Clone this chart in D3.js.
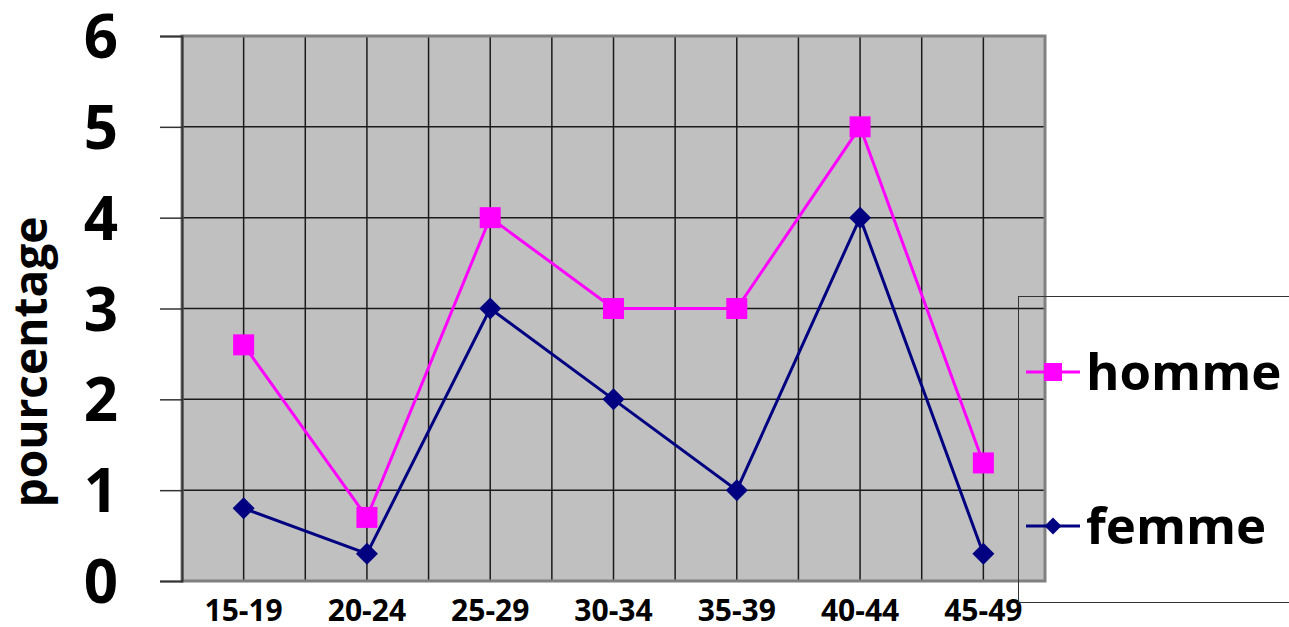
<!DOCTYPE html>
<html>
<head>
<meta charset="utf-8">
<script src="https://cdn.jsdelivr.net/npm/d3@7"></script>
<style>
  html, body { margin: 0; padding: 0; background: #fff; }
  svg { display: block; }
  text { font-family: "Open Sans", sans-serif; font-weight: bold; fill: #000; }
</style>
</head>
<body>
<svg id="chart" width="1289" height="627"></svg>
<script>
const categories = ["15-19", "20-24", "25-29", "30-34", "35-39", "40-44", "45-49"];
const homme = [2.6, 0.7, 4, 3, 3, 5, 1.3];
const femme = [0.8, 0.3, 3, 2, 1, 4, 0.3];
const yTicks = [0, 1, 2, 3, 4, 5, 6];
const seriesNames = ["homme", "femme"];
const yLabel = "pourcentage";

const svg = d3.select("#chart");
const L = 182, R = 1045, T = 36, B = 581;

const x = d3.scaleBand().domain(categories).range([L, R]).padding(0);
const xc = d => x(d) + x.bandwidth() / 2;
const y = d3.scaleLinear().domain([0, 6]).range([B, T]);

// plot background
svg.append("rect").attr("x", L).attr("y", T).attr("width", R - L).attr("height", B - T)
  .attr("fill", "#c0c0c0");

// vertical gridlines: band boundaries and centers
const vlines = [];
categories.forEach((c, i) => {
  if (i > 0) vlines.push(x(c));
  vlines.push(xc(c));
});
svg.append("g").selectAll("line").data(vlines).join("line")
  .attr("x1", d => d).attr("x2", d => d).attr("y1", T).attr("y2", B)
  .attr("stroke", "#1a1a1a").attr("stroke-width", 1.5);

// horizontal gridlines
svg.append("g").selectAll("line").data(yTicks.filter(t => t > 0 && t < 6)).join("line")
  .attr("x1", L).attr("x2", R).attr("y1", d => y(d)).attr("y2", d => y(d))
  .attr("stroke", "#1a1a1a").attr("stroke-width", 1.5);

// plot border (gray)
svg.append("rect").attr("x", L).attr("y", T).attr("width", R - L).attr("height", B - T)
  .attr("fill", "none").attr("stroke", "#808080").attr("stroke-width", 3);

// y axis
const yAxis = d3.axisLeft(y).tickValues(yTicks).tickSize(22).tickFormat(d3.format("d"));
const ya = svg.append("g").attr("transform", `translate(${L},0)`).call(yAxis);
ya.select(".domain").attr("stroke", "#333").attr("stroke-width", 2);
ya.selectAll(".tick line").attr("stroke", "#333").attr("stroke-width", 1.5);
ya.selectAll(".tick text").attr("x", -64).attr("dy", "0.36em")
  .style("font-family", "'Open Sans', sans-serif").style("font-weight", "bold")
  .style("font-size", "60px").attr("fill", "#000");

// x axis labels
const xAxis = d3.axisBottom(x).tickSize(0);
const xa = svg.append("g").attr("transform", `translate(0,${B})`).call(xAxis);
xa.select(".domain").remove();
xa.selectAll(".tick text").attr("y", 19).attr("dy", "0.71em")
  .style("font-family", "'Open Sans', sans-serif").style("font-weight", "bold")
  .style("font-size", "30px").attr("fill", "#000");

// y label
svg.append("text").attr("transform", `translate(47,362) rotate(-90)`)
  .attr("text-anchor", "middle").style("font-size", "46px").text(yLabel);

// series
const colors = { homme: "#ff00ff", femme: "#000080" };
const data = { homme, femme };
const line = d3.line().x((d, i) => xc(categories[i])).y(d => y(d));

seriesNames.forEach(name => {
  svg.append("path").datum(data[name]).attr("d", line)
    .attr("fill", "none").attr("stroke", colors[name]).attr("stroke-width", 3);
});

// markers
svg.append("g").selectAll("rect").data(homme).join("rect")
  .attr("x", (d, i) => xc(categories[i]) - 10.5).attr("y", d => y(d) - 10.5)
  .attr("width", 21).attr("height", 21).attr("fill", colors.homme);

svg.append("g").selectAll("path").data(femme).join("path")
  .attr("d", (d, i) => {
    const cx = xc(categories[i]), cy = y(d), r = 11;
    return `M${cx},${cy - r}L${cx + r},${cy}L${cx},${cy + r}L${cx - r},${cy}Z`;
  })
  .attr("fill", colors.femme);

// legend box
svg.append("rect").attr("x", 1018.5).attr("y", 296.5).attr("width", 400).attr("height", 306)
  .attr("fill", "none").attr("stroke", "#333").attr("stroke-width", 1);

const legY = { homme: 372, femme: 526 };
seriesNames.forEach(name => {
  const g = svg.append("g");
  const ly = legY[name];
  g.append("line").attr("x1", 1026).attr("x2", 1080).attr("y1", ly).attr("y2", ly)
    .attr("stroke", colors[name]).attr("stroke-width", 3);
  if (name === "homme") {
    g.append("rect").attr("x", 1044).attr("y", ly - 9).attr("width", 18).attr("height", 18)
      .attr("fill", colors[name]);
  } else {
    const cx = 1053, r = 8.5;
    g.append("path").attr("d", `M${cx},${ly - r}L${cx + r},${ly}L${cx},${ly + r}L${cx - r},${ly}Z`)
      .attr("fill", colors[name]);
  }
  g.append("text").attr("x", 1086).attr("y", ly).attr("dy", "0.35em")
    .style("font-size", "51px").text(name);
});
</script>
</body>
</html>
